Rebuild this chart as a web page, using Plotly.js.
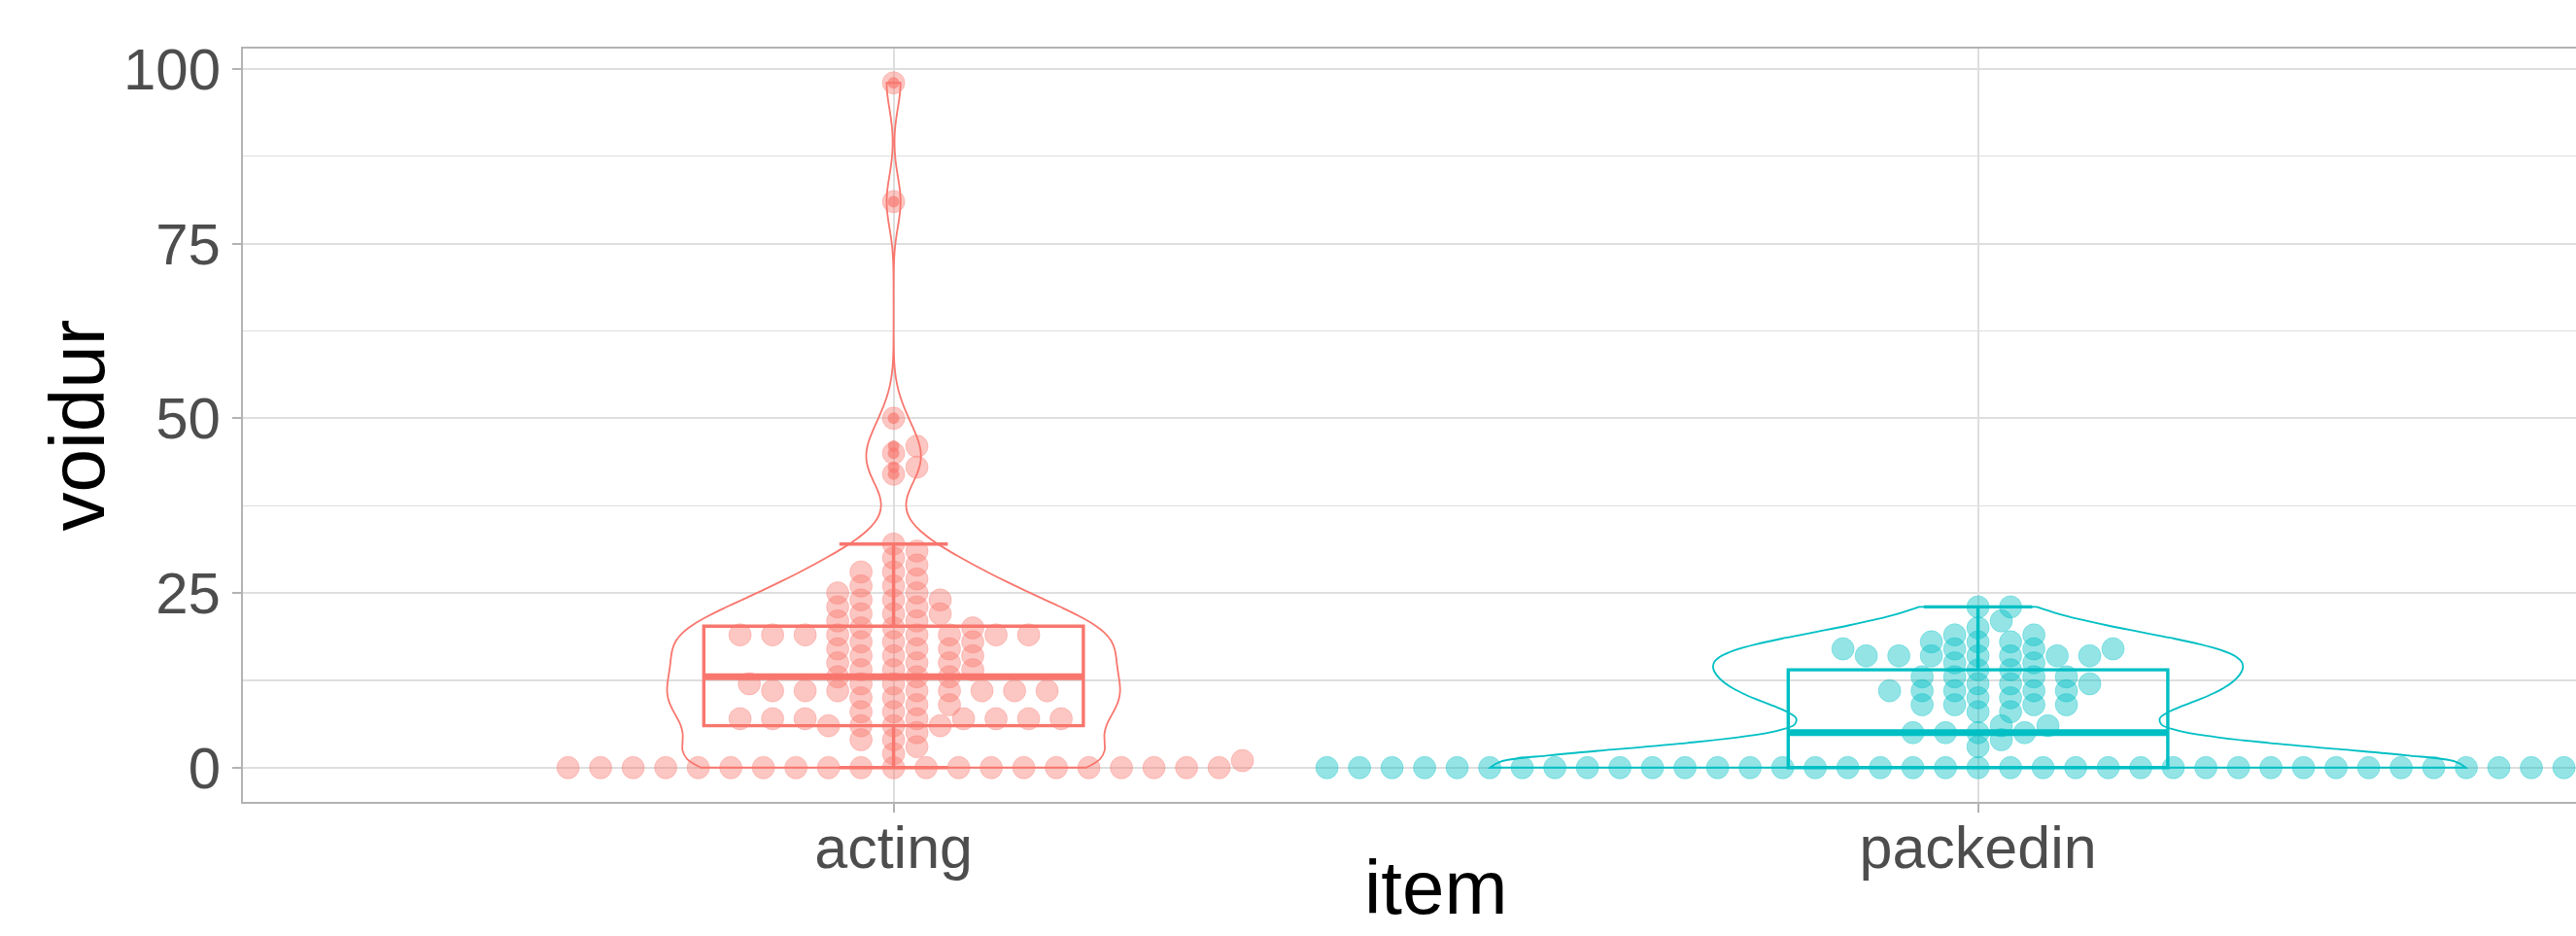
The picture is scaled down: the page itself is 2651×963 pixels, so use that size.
<!DOCTYPE html>
<html>
<head>
<meta charset="utf-8">
<script src="https://cdn.plot.ly/plotly-3.0.1.min.js"></script>
<style>html,body{margin:0;padding:0;background:#fff;}#chart{width:2651px;height:963px;}</style>
</head>
<body>
<div id="chart"></div>
<script>
// ---- data ----
const categories = ["acting", "packedin"];
const categoryPositions = [1, 2];

// voidur values, group "acting"
const actingValues = [
  0,0,0,0,0,0,0,0,0,0,0,0,0,0,0,0,0,0,0,0,0,
  1,2,3,4,4,5,6,6,6,6,
  7,7,7,7,7,7,7,7,
  8,8,9,9,10,10,
  11,11,11,11,11,11,11,11,
  12,12,12,13,13,13,14,14,14,15,15,15,
  16,16,16,17,17,17,18,18,18,
  19,19,19,19,19,19,19,19,
  20,20,20,21,21,22,22,22,23,23,24,24,24,25,25,26,26,27,28,28,29,30,31,32,
  42,43,45,46,50,81,98
];
// voidur values, group "packedin"
const packedinValues = [
  0,0,0,0,0,0,0,0,0,0,0,0,0,0,0,0,0,0,0,0,
  0,0,0,0,0,0,0,0,0,0,0,0,0,0,0,0,0,0,0,0,0,
  3,4,5,5,5,5,6,6,8,8,9,9,9,9,10,10,
  11,11,11,11,11,12,12,12,13,13,13,13,14,14,15,15,
  16,16,16,16,16,16,16,17,17,17,17,18,18,18,19,19,20,21,23,23
];

const yTickValues = [0, 25, 50, 75, 100];
const yTickLabels = ["0", "25", "50", "75", "100"];

// ---- styles ----
const colors = ["#F8766D", "#00BFC4"];
const dotFill = ["rgba(248,118,109,0.42)", "rgba(0,191,196,0.42)"];
const dotEdge = ["rgba(248,118,109,0.30)", "rgba(0,191,196,0.30)"];
const outlierFill = ["rgba(248,118,109,0.65)", "rgba(0,191,196,0.65)"];
const FONT = "Liberation Sans, Arial, sans-serif";

// ---- helpers (statistics computed from the data) ----
function sorted(a){ return a.slice().sort((p,q)=>p-q); }
function quantile7(a, p){
  const s = sorted(a), h = (s.length-1)*p, lo = Math.floor(h);
  return lo+1 < s.length ? s[lo] + (h-lo)*(s[lo+1]-s[lo]) : s[lo];
}
function sd(a){
  const m = a.reduce((x,y)=>x+y,0)/a.length;
  return Math.sqrt(a.reduce((x,y)=>x+(y-m)*(y-m),0)/(a.length-1));
}
function bwNrd0(a){
  const hi = sd(a);
  let lo = Math.min(hi, (quantile7(a,0.75)-quantile7(a,0.25))/1.34);
  if(!lo) lo = hi || Math.abs(a[0]) || 1;
  return 0.9*lo*Math.pow(a.length, -0.2);
}
// peak of the gaussian kernel density (integrates to 1) over the data range
function kdePeak(a, bw){
  const lo = Math.min(...a), hi = Math.max(...a);
  let best = 0;
  for(let k = 0; k < 512; k++){
    const y = lo + (hi-lo)*k/511;
    let s = 0;
    for(const v of a){ const z = (y-v)/bw; s += Math.exp(-0.5*z*z); }
    s /= (a.length*bw*Math.sqrt(2*Math.PI));
    if(s > best) best = s;
  }
  return best;
}
// beeswarm "swarm" layout (ascending priority), elliptical collision
function swarmOffsets(vals, spacingX, spacingY){
  const order = vals.map((v,i)=>i).sort((a,b)=>(vals[a]-vals[b]) || (a-b));
  const placed = [];
  const offs = new Array(vals.length).fill(0);
  for(const i of order){
    const u = vals[i]/spacingY;
    const pre = placed.filter(p => u - p.u < 1);
    if(!pre.length){ placed.push({u:u, v:0}); offs[i]=0; continue; }
    const preS = pre.map((p,k)=>[p,k]).sort((a,b)=>(Math.abs(a[0].v)-Math.abs(b[0].v)) || (a[1]-b[1])).map(x=>x[0]);
    const d = preS.map(p => Math.sqrt(Math.max(0, 1-(u-p.u)*(u-p.u))));
    const cands = [0].concat(preS.map((p,k)=>p.v+d[k]), preS.map((p,k)=>p.v-d[k]));
    let best = Infinity, bestV = 0;
    for(const c of cands){
      const bad = preS.some(p => (u-p.u)*(u-p.u) + (c-p.v)*(c-p.v) < 0.999);
      if(!bad && Math.abs(c) < best){ best = Math.abs(c); bestV = c; }
    }
    placed.push({u:u, v:bestV});
    offs[i] = bestV*spacingX;
  }
  return offs;
}

// ---- geometry of the reference layout ----
const W = 2651, H = 963;
const margin = {l: 250, r: 0, t: 50, b: 138};
const xRange = [0.4, 0.4 + (W - margin.l)/1116];
const yRange = [-4.9, 102.9];
const plotH = H - margin.t - margin.b;
const pxPerY = plotH/(yRange[1]-yRange[0]);
const pxPerX = (W - margin.l)/(xRange[1]-xRange[0]);
const dotSize = 23;
const swarmDX = 33.5/pxPerX;     // horizontal spacing of swarm (x units)
const swarmDY = 10.3/pxPerY;     // vertical collision extent (y units)
const boxWidth = 0.35;
const capWidth = 0.10;
const maxViolinWidth = 0.9;

const groups = [actingValues, packedinValues];
const bws = groups.map(bwNrd0);
const peaks = groups.map((g,i)=>kdePeak(g, bws[i]));
const maxPeak = Math.max(...peaks);
const traces = [];

// violins (scaled by area, as ggplot does)
groups.forEach((vals, g) => {
  traces.push({
    type: "violin", x0: categoryPositions[g], y: vals, name: categories[g],
    width: maxViolinWidth*peaks[g]/maxPeak, scalegroup: "grp" + g, scalemode: "width", spanmode: "hard",
    bandwidth: bws[g], points: false,
    box: {visible: false}, meanline: {visible: false},
    line: {color: colors[g], width: 1.8}, fillcolor: "rgba(0,0,0,0)",
    hoverinfo: "skip", showlegend: false
  });
});
// boxes
groups.forEach((vals, g) => {
  traces.push({
    type: "box", x0: categoryPositions[g], y: vals, name: categories[g],
    width: boxWidth, whiskerwidth: capWidth/boxWidth, quartilemethod: "linear",
    boxpoints: "outliers", jitter: 0, pointpos: 0,
    marker: {color: outlierFill[g], size: 12, line: {width: 0}},
    line: {color: colors[g], width: 3.4}, fillcolor: "rgba(0,0,0,0)",
    hoverinfo: "skip", showlegend: false
  });
});
// swarm dots
groups.forEach((vals, g) => {
  const offs = swarmOffsets(vals, swarmDX, swarmDY);
  traces.push({
    type: "scatter", mode: "markers",
    x: vals.map((v,i)=>categoryPositions[g] + offs[i]), y: vals,
    marker: {size: dotSize, color: dotFill[g], line: {color: dotEdge[g], width: 1}},
    hoverinfo: "skip", showlegend: false
  });
});
// thick median lines (ggplot draws the median at double width)
groups.forEach((vals, g) => {
  const med = quantile7(vals, 0.5), c = categoryPositions[g];
  traces.push({
    type: "scatter", mode: "lines",
    x: [c - boxWidth/2, c + boxWidth/2], y: [med, med],
    line: {color: colors[g], width: 7}, hoverinfo: "skip", showlegend: false
  });
});

const layout = {
  width: W, height: H, margin: margin,
  paper_bgcolor: "#ffffff", plot_bgcolor: "#ffffff",
  showlegend: false, hovermode: false,
  violinmode: "overlay", boxmode: "overlay",
  font: {family: FONT, color: "#4D4D4D"},
  xaxis: {
    range: xRange, tickvals: categoryPositions, ticktext: categories,
    showgrid: true, gridcolor: "#DEDEDE", gridwidth: 2, zeroline: false,
    showline: true, mirror: true, linecolor: "#B3B3B3", linewidth: 2,
    ticks: "outside", ticklen: 9, tickwidth: 2, tickcolor: "#B3B3B3",
    ticklabelstandoff: -16,
    tickfont: {family: FONT, size: 61, color: "#4D4D4D"}
  },
  yaxis: {
    range: yRange, tickvals: yTickValues, ticktext: yTickLabels,
    showgrid: true, gridcolor: "#DEDEDE", gridwidth: 2, zeroline: false,
    minor: {dtick: 12.5, tick0: 0, showgrid: true, gridcolor: "#DEDEDE", gridwidth: 1.3, ticks: ""},
    showline: true, linecolor: "#B3B3B3", linewidth: 2,
    ticks: "outside", ticklen: 9, tickwidth: 2, tickcolor: "#B3B3B3",
    tickfont: {family: FONT, size: 60, color: "#4D4D4D"}
  },
  annotations: [
    {text: "item", xref: "x", x: (xRange[0] + 2.6)/2, yref: "paper", y: -(913 - (H - margin.b))/plotH,
     xanchor: "center", yanchor: "middle", showarrow: false,
     font: {family: FONT, size: 78, color: "#000000"}},
    {text: "voidur", xref: "paper", x: (79 - margin.l)/(W - margin.l), yref: "paper", y: 0.5,
     xanchor: "center", yanchor: "middle", textangle: -90, showarrow: false,
     font: {family: FONT, size: 80, color: "#000000"}}
  ]
};

Plotly.newPlot("chart", traces, layout, {staticPlot: true, displayModeBar: false});
</script>
</body>
</html>
